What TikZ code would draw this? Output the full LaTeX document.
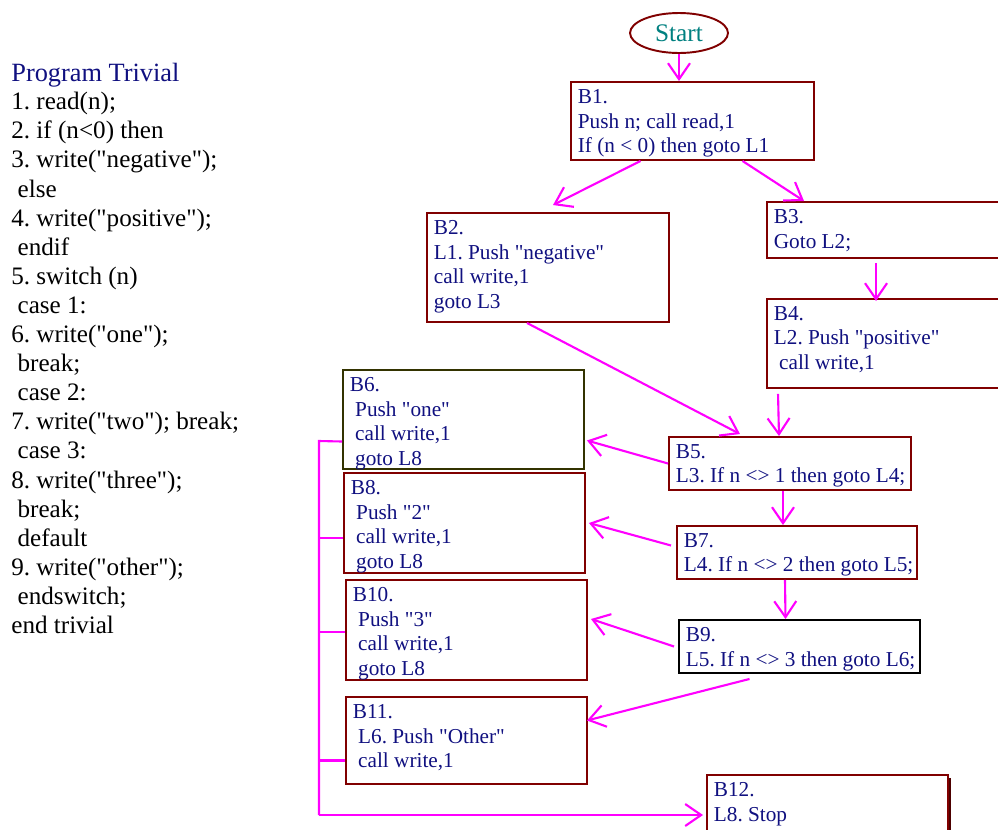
\documentclass[tikz,border=0pt]{standalone}
\usepackage{fontspec}
\setmainfont{Liberation Serif}
\newfontfamily\timesfont{Liberation Serif}
\usepackage{tikz}
\usetikzlibrary{arrows.meta, calc, fit, shapes.geometric, shadows}
\frenchspacing

\definecolor{codeblue}{RGB}{16,16,128}
\definecolor{boxred}{RGB}{128,0,0}
\definecolor{boxolive}{RGB}{51,51,0}
\definecolor{startteal}{RGB}{0,128,128}
\definecolor{flowpink}{RGB}{255,0,255}

\begin{document}
\begin{tikzpicture}[x=0.02cm, y=-0.02cm,
  blk/.style={draw=boxred, line width=1.1pt, inner sep=0pt},
  txt/.style={anchor=north west, align=left, inner xsep=0.15cm, inner ysep=0.16cm,
    text=codeblue, font=\timesfont\fontsize{12.1}{14}\selectfont},
  flow/.style={draw=flowpink, line width=1.2pt, -{Straight Barb[length=0.32cm, width=0.44cm]}},
  bus/.style={draw=flowpink, line width=1.2pt}]

\useasboundingbox (0,0) rectangle (998,829);

% source listing on the left
\node[anchor=base west, inner sep=0pt, text=codeblue, font=\timesfont\fontsize{15}{18}\selectfont] (title) at (11,81) {Program Trivial};
\node[anchor=north west, inner sep=0pt, align=left, font=\timesfont\fontsize{14.3}{16.56}\selectfont] (code) at (11,92)
{1. read(n);\\
2. if (n<0) then\\
3. write("negative");\\
\ else\\
4. write("positive");\\
\ endif\\
5. switch (n)\\
\ case 1:\\
6. write("one");\\
\ break;\\
\ case 2:\\
7. write("two"); break;\\
\ case 3:\\
8. write("three");\\
\ break;\\
\ default\\
9. write("other");\\
\ endswitch;\\
end trivial};

% start
\node[ellipse, draw=boxred, line width=1.1pt, minimum width=1.96cm, minimum height=0.8cm, inner sep=0pt,
  text=startteal, font=\timesfont\fontsize{14.4}{16}\selectfont] (start) at (679,33) {Start};

% basic blocks
\node[blk, fit={(571,82) (814,160)}] (b1) {};
\node[txt] (t1) at (b1.north west) {B1.\\Push n; call read,1\\If (n < 0) then goto L1};

\node[blk, fit={(427,213) (669,322)}] (b2) {};
\node[txt] (t2) at (b2.north west) {B2.\\L1. Push "negative"\\call write,1\\goto L3};

\node[blk, fit={(767,202) (1004,258)}] (b3) {};
\node[txt] (t3) at (b3.north west) {B3.\\Goto L2;};

\node[blk, fit={(767,299) (1004,388)}] (b4) {};
\node[txt] (t4) at (b4.north west) {B4.\\L2. Push "positive"\\\ call write,1};

\node[blk, fit={(669,437) (911,490)}] (b5) {};
\node[txt] (t5) at (b5.north west) {B5.\\L3. If n <> 1 then goto L4;};

\node[blk, draw=boxolive, fit={(343,370) (584,469)}] (b6) {};
\node[txt] (t6) at (b6.north west) {B6.\\\ Push "one"\\\ call write,1\\\ goto L8};

\node[blk, fit={(677,526) (917,579)}] (b7) {};
\node[txt] (t7) at (b7.north west) {B7.\\L4. If n <> 2 then goto L5;};

\node[blk, fit={(344,473) (585,573)}] (b8) {};
\node[txt] (t8) at (b8.north west) {B8.\\\ Push "2"\\\ call write,1\\\ goto L8};

\node[blk, draw=black, fit={(679,620) (920,673)}] (b9) {};
\node[txt] (t9) at (b9.north west) {B9.\\L5. If n <> 3 then goto L6;};

\node[blk, fit={(346,580) (587,680)}] (b10) {};
\node[txt] (t10) at (b10.north west) {B10.\\\ Push "3"\\\ call write,1\\\ goto L8};

\node[blk, fit={(346,697) (587,784)}] (b11) {};
\node[txt] (t11) at (b11.north west) {B11.\\\ L6. Push "Other"\\\ call write,1};

\node[blk, fill=white, fit={(707,775) (948,845)},
  drop shadow={shadow xshift=0.06cm, shadow yshift=-0.06cm, fill=boxred!60!black, opacity=1}] (b12) {};
\node[txt] (t12) at (b12.north west) {B12.\\L8. Stop};

% control flow
\draw[flow] (start.south) -- (start.south |- b1.north);
\draw[flow] ($(b1.south)+(-52,0)$) -- ($(b2.north)+(5,-7)$);
\draw[flow] ($(b1.south)+(50,0)$) -- ($(b3.north west)+(38,0)$);
\draw[flow] ($(b3.south west)+(110,4)$) -- ($(b4.north west)+(110,3)$);
\draw[flow] ($(b2.south)+(-21,0)$) -- ($(b5.north)+(-50,-2)$);
\draw[flow] ($(b4.south west)+(12,5)$) -- ($(b5.north)+(-11,0)$);
\draw[flow] (b5.west) -- ($(b6.east)+(2,21)$);
\draw[flow] ($(b5.south)+(-7,0)$) -- ($(b7.north)+(-14,0)$);
\draw[flow] ($(b7.west)+(-5,-7)$) -- ($(b8.east)+(3,0)$);
\draw[flow] ($(b7.south)+(-12,0)$) -- ($(b9.north)+(-14,0)$);
\draw[flow] ($(b9.west)+(-4,0)$) -- ($(b10.east)+(3,-11)$);
\draw[flow] ($(b9.south)+(-50,5)$) -- ($(b11.east)+(-1,-20)$);

% goto L8 collector
\coordinate (bustop) at (319,441);
\coordinate (busend) at (319,815);
\draw[bus] ($(b6.west)+(0,22)$) -- (bustop) -- (busend);
\draw[bus] ($(b8.west)+(0,15)$) -- ++(-25,0);
\draw[bus] ($(b10.west)+(0,2)$) -- ++(-27,0);
\draw[bus] ($(b11.west)+(0,20)$) -- ++(-27,0);
\draw[flow] (busend) -- ($(busend -| b12.west)+(-3,0)$);

\end{tikzpicture}
\end{document}
